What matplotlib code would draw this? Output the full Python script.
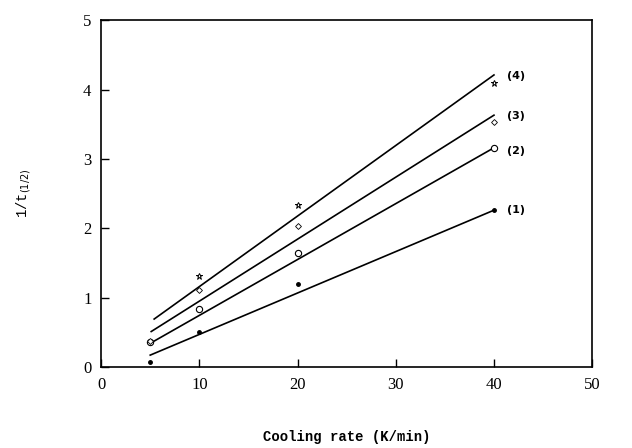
import matplotlib
matplotlib.use("Agg")
import matplotlib.pyplot as plt

# cooling rate (K/min)
rate = [5, 10, 20, 40]

# measured 1/t(1/2) for the four series
s1 = [0.07, 0.51, 1.19, 2.26]
s2 = [0.36, 0.84, 1.64, 3.15]
s3 = [0.38, 1.11, 2.03, 3.53]
s4 = [None, 1.31, 2.34, 4.10]

# fitted lines (start / end values)
fit1_x = [5, 40]
fit1_y = [0.17, 2.26]
fit2_x = [5, 40]
fit2_y = [0.34, 3.16]
fit3_x = [5.1, 40]
fit3_y = [0.51, 3.63]
fit4_x = [5.4, 40]
fit4_y = [0.69, 4.21]

labels = ["(1)", "(2)", "(3)", "(4)"]
label_y = [2.26, 3.12, 3.62, 4.2]

fig = plt.figure(figsize=(6.32, 4.48), dpi=100)
ax = fig.add_axes([0.160, 0.181, 0.777, 0.774])

for fx, fy in [(fit1_x, fit1_y), (fit2_x, fit2_y), (fit3_x, fit3_y), (fit4_x, fit4_y)]:
    ax.plot(fx, fy, color="black", lw=1.2)

ax.plot(rate, s1, "o", ms=2.5, color="black", ls="none")
ax.plot(rate, s2, "o", ms=4.5, mfc="white", mec="black", mew=0.8, ls="none")
ax.plot(rate, s3, "D", ms=3, mfc="white", mec="black", mew=0.6, ls="none")
x4 = [r for r, v in zip(rate, s4) if v is not None]
y4 = [v for v in s4 if v is not None]
ax.plot(x4, y4, "*", ms=5, mfc="white", mec="black", mew=0.7, ls="none")

for lab, ly in zip(labels, label_y):
    ax.text(41.3, ly, lab, fontsize=8, fontweight="bold", family="DejaVu Sans",
            va="center", ha="left")

ax.set_xlim(0, 50)
ax.set_ylim(0, 5)
ax.set_xticks([0, 10, 20, 30, 40, 50])
ax.set_yticks([0, 1, 2, 3, 4, 5])
ax.tick_params(direction="in", length=6, width=1, labelsize=12, pad=7)
for lbl in ax.get_xticklabels() + ax.get_yticklabels():
    lbl.set_family("Liberation Serif")
for sp in ax.spines.values():
    sp.set_linewidth(1.2)

ax.set_xlabel("Cooling rate (K/min)", family="Liberation Mono", fontsize=10,
              fontweight="bold", labelpad=27)
ax.set_ylabel(r"1/t$_{(1/2)}$", family="Liberation Mono", fontsize=10,
              labelpad=36)

fig.savefig("out.png", dpi=100)
